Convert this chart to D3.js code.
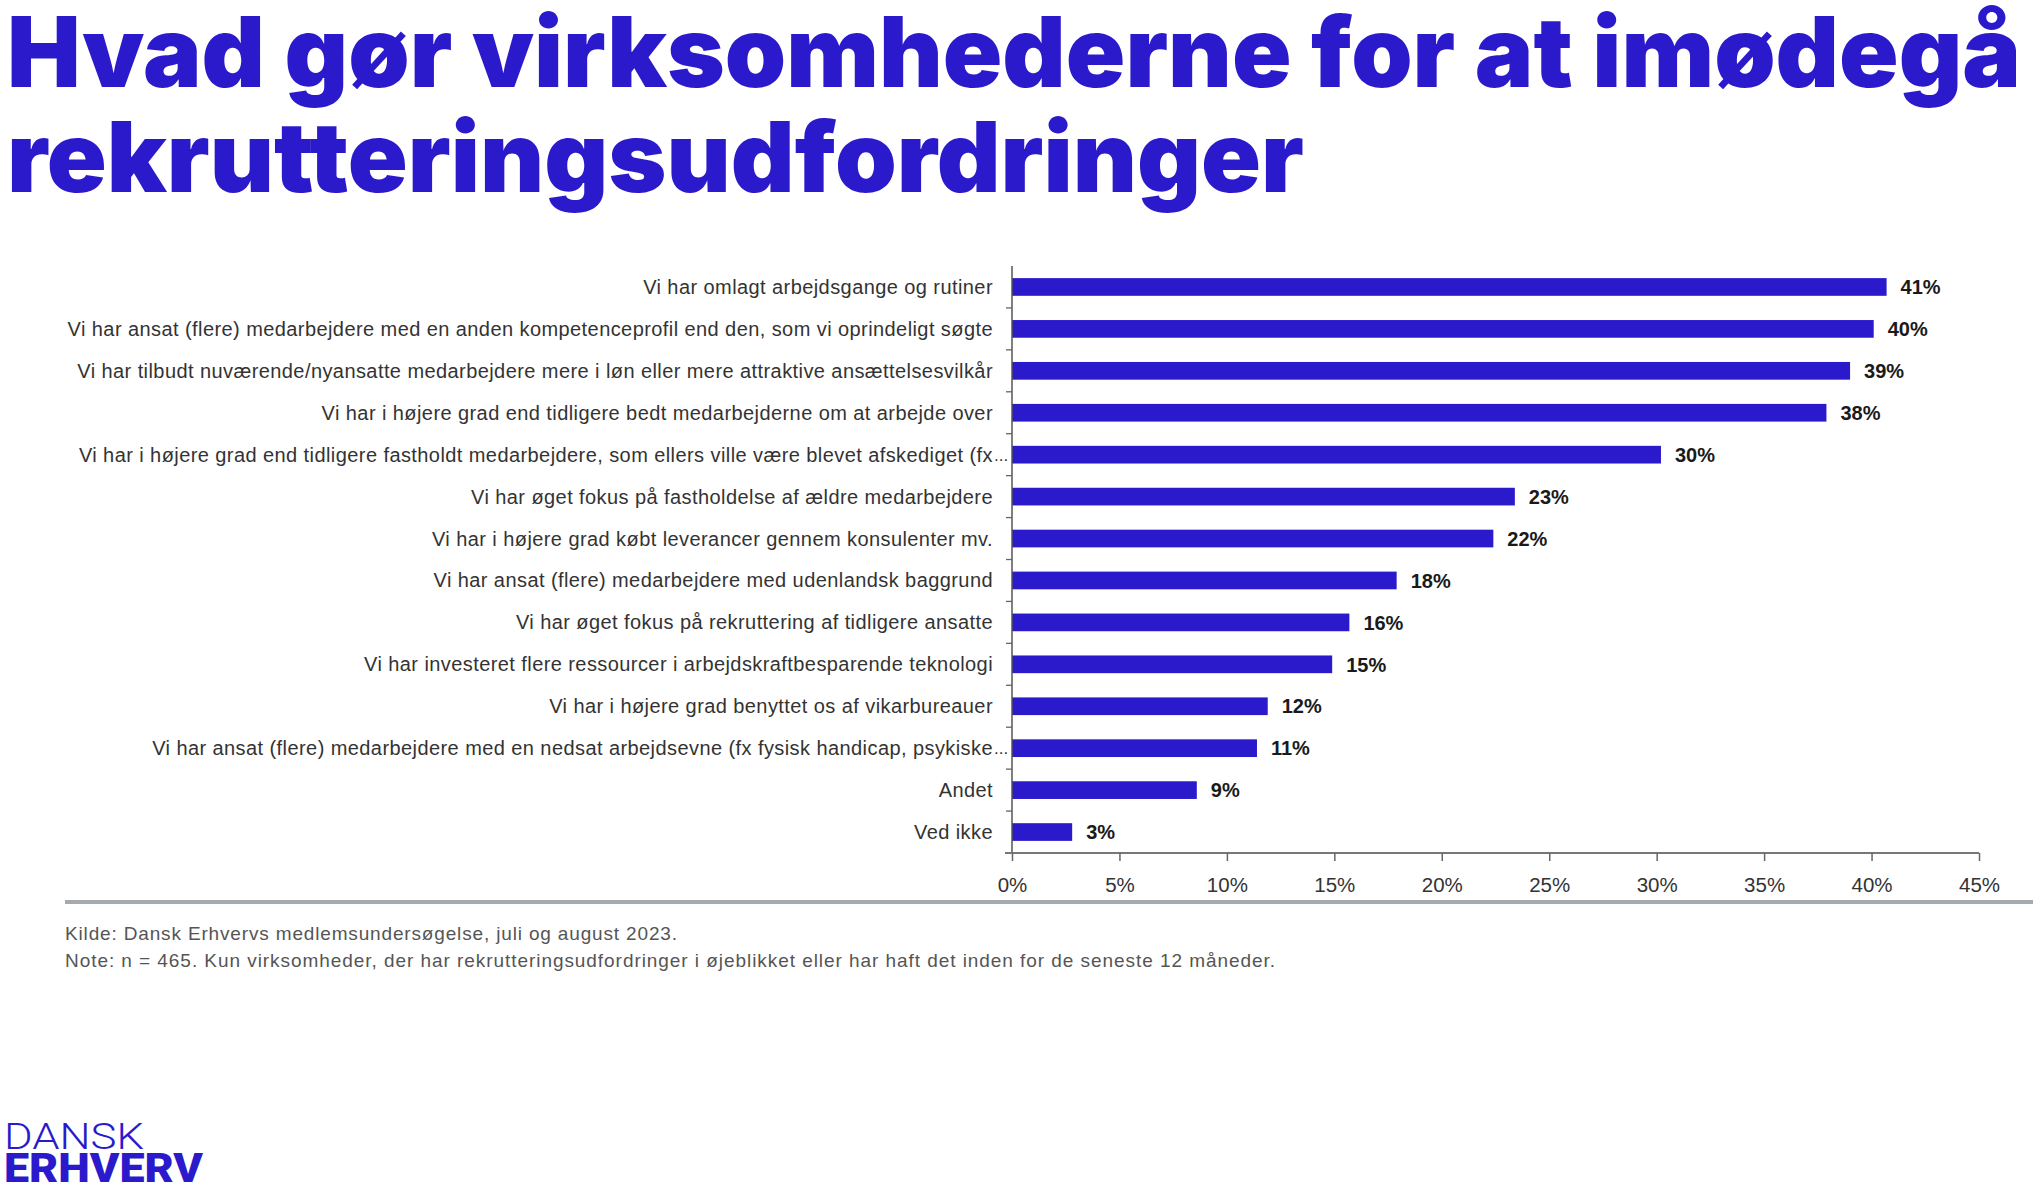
<!DOCTYPE html>
<html>
<head>
<meta charset="utf-8">
<script src="https://cdn.jsdelivr.net/npm/d3@7"></script>
<style>
body{margin:0;background:#fff;}
svg{display:block;}
</style>
</head>
<body>
<svg id="chart" width="2040" height="1193"></svg>
<script>
var titleLines = ["Hvad gør virksomhederne for at imødegå", "rekrutteringsudfordringer"];
var categories = [
	"Vi har omlagt arbejdsgange og rutiner",
	"Vi har ansat (flere) medarbejdere med en anden kompetenceprofil end den, som vi oprindeligt søgte",
	"Vi har tilbudt nuværende/nyansatte medarbejdere mere i løn eller mere attraktive ansættelsesvilkår",
	"Vi har i højere grad end tidligere bedt medarbejderne om at arbejde over",
	"Vi har i højere grad end tidligere fastholdt medarbejdere, som ellers ville være blevet afskediget (fx…",
	"Vi har øget fokus på fastholdelse af ældre medarbejdere",
	"Vi har i højere grad købt leverancer gennem konsulenter mv.",
	"Vi har ansat (flere) medarbejdere med udenlandsk baggrund",
	"Vi har øget fokus på rekruttering af tidligere ansatte",
	"Vi har investeret flere ressourcer i arbejdskraftbesparende teknologi",
	"Vi har i højere grad benyttet os af vikarbureauer",
	"Vi har ansat (flere) medarbejdere med en nedsat arbejdsevne (fx fysisk handicap, psykiske…",
	"Andet",
	"Ved ikke"
];
var shares = [40.7, 40.1, 39.0, 37.9, 30.2, 23.4, 22.4, 17.9, 15.7, 14.9, 11.9, 11.4, 8.6, 2.8];
var xTicks = [0, 5, 10, 15, 20, 25, 30, 35, 40, 45];
var footnotes = [
	"Kilde: Dansk Erhvervs medlemsundersøgelse, juli og august 2023.",
	"Note: n = 465. Kun virksomheder, der har rekrutteringsudfordringer i øjeblikket eller har haft det inden for de seneste 12 måneder."
];
var logoLines = ["DANSK", "ERHVERV"];

var blue = "#2b1acb";
var svg = d3.select("#chart");

function fitSpacing(sel, target)
{
	var w = sel.node().getComputedTextLength();
	var n = sel.text().length;
	sel.attr("letter-spacing", ((target - w) / (n - 1)).toFixed(3));
	return (target - w) / (n - 1);
}

function drawTitle()
{
	var widths = [2014, 1297];
	var base = [87, 192];
	for(var i = 0; i < titleLines.length; i++)
	{
		svg.append("text")
			.attr("x", 7).attr("y", base[i])
			.attr("font-family", "Inter, Roboto, 'Open Sans', sans-serif")
			.attr("font-weight", 900)
			.attr("font-size", 98)
			.attr("fill", blue)
			.attr("textLength", widths[i])
			.attr("lengthAdjust", "spacingAndGlyphs")
			.text(titleLines[i]);
	}
}

function drawChart()
{
	var x = d3.scaleLinear().domain([0, 45]).range([1012, 1979]);
	var y = d3.scaleBand().domain(categories).range([266, 853]).paddingInner(0.578).paddingOuter(0.289);
	var g = svg.append("g");
	var gap = (y.step() - y.bandwidth()) / 2;

	g.selectAll("rect.bar").data(shares).enter().append("rect")
		.attr("class", "bar")
		.attr("x", x(0))
		.attr("y", function(d, i){ return y(categories[i]); })
		.attr("width", function(d){ return x(d) - x(0); })
		.attr("height", y.bandwidth())
		.attr("fill", blue);

	g.selectAll("text.val").data(shares).enter().append("text")
		.attr("class", "val")
		.attr("x", function(d){ return x(d) + 14; })
		.attr("y", function(d, i){ return y(categories[i]) + y.bandwidth() / 2; })
		.attr("dy", "0.36em")
		.attr("font-family", "'Liberation Sans', Arial, sans-serif")
		.attr("font-weight", "bold")
		.attr("font-size", 20)
		.attr("fill", "#1a1a1a")
		.text(function(d){ return Math.round(d) + "%"; });

	// category labels, the cut ones keep their ellipsis past the right edge
	var labelSpacing = null;
	categories.forEach(function(c, i)
	{
		var cut = c.slice(-1) == "…";
		var stem = cut ? c.slice(0, -1) : c;
		var cy = y(c) + y.bandwidth() / 2;
		var t = g.append("text")
			.attr("class", "cat")
			.attr("x", 993).attr("y", cy).attr("dy", "0.35em")
			.attr("text-anchor", "end")
			.attr("font-family", "'Liberation Sans', Arial, sans-serif")
			.attr("font-size", 20)
			.attr("fill", "#333")
			.text(stem);
		if(i == 1) labelSpacing = fitSpacing(t, 925);
		if(cut)
		{
			g.append("text")
				.attr("x", 994).attr("y", cy).attr("dy", "0.35em")
				.attr("font-family", "'Liberation Sans', Arial, sans-serif")
				.attr("font-size", 17)
				.attr("fill", "#333")
				.text("...");
		}
	});
	g.selectAll("text.cat").attr("letter-spacing", labelSpacing.toFixed(3));

	// y axis line and band ticks
	g.append("line").attr("x1", x(0)).attr("x2", x(0)).attr("y1", y.range()[0]).attr("y2", y.range()[1])
		.attr("stroke", "#555").attr("stroke-width", 1.5);
	var bounds = categories.map(function(c){ return y(c) - gap; }).slice(1);
	g.selectAll("line.ytick").data(bounds).enter().append("line")
		.attr("class", "ytick")
		.attr("x1", x(0) - 6).attr("x2", x(0))
		.attr("y1", function(d){ return d; }).attr("y2", function(d){ return d; })
		.attr("stroke", "#666").attr("stroke-width", 1.3);

	// x axis
	var xAxis = d3.axisBottom(x).tickValues(xTicks).tickSize(8).tickPadding(16)
		.tickFormat(function(d){ return d + "%"; });
	var ax = g.append("g").attr("transform", "translate(0," + y.range()[1] + ")").call(xAxis);
	ax.select(".domain").remove();
	ax.insert("line", ":first-child").attr("x1", x(0) - 7).attr("x2", x(45)).attr("y1", 0).attr("y2", 0)
		.attr("stroke", "#777").attr("stroke-width", 2);
	ax.selectAll(".tick line").attr("stroke", "#666").attr("stroke-width", 1.5);
	ax.selectAll(".tick text")
		.attr("font-family", "'Liberation Sans', Arial, sans-serif")
		.attr("font-size", 20.5)
		.attr("fill", "#333");
}

function drawFooter()
{
	svg.append("line").attr("x1", 65).attr("x2", 2033).attr("y1", 902).attr("y2", 902)
		.attr("stroke", "#a4aaad").attr("stroke-width", 4);
	var base = [940, 967];
	var widths = [612, 1210];
	for(var i = 0; i < footnotes.length; i++)
	{
		var t = svg.append("text")
			.attr("x", 65).attr("y", base[i])
			.attr("font-family", "'Liberation Sans', Arial, sans-serif")
			.attr("font-size", 19)
			.attr("fill", "#555")
			.text(footnotes[i]);
		fitSpacing(t, widths[i]);
	}
	svg.append("text")
		.attr("x", 4).attr("y", 1149)
		.attr("font-family", "Roboto, Inter, sans-serif")
		.attr("font-weight", 300)
		.attr("font-size", 37)
		.attr("fill", blue)
		.attr("textLength", 140).attr("lengthAdjust", "spacingAndGlyphs")
		.text(logoLines[0]);
	svg.append("text")
		.attr("x", 4).attr("y", 1182)
		.attr("font-family", "Roboto, Inter, sans-serif")
		.attr("font-weight", 900)
		.attr("font-size", 40)
		.attr("fill", blue)
		.attr("textLength", 199).attr("lengthAdjust", "spacingAndGlyphs")
		.text(logoLines[1]);
}

svg.append("rect").attr("width", 2040).attr("height", 1193).attr("fill", "#fff");
drawTitle();
drawChart();
drawFooter();
</script>
</body>
</html>
